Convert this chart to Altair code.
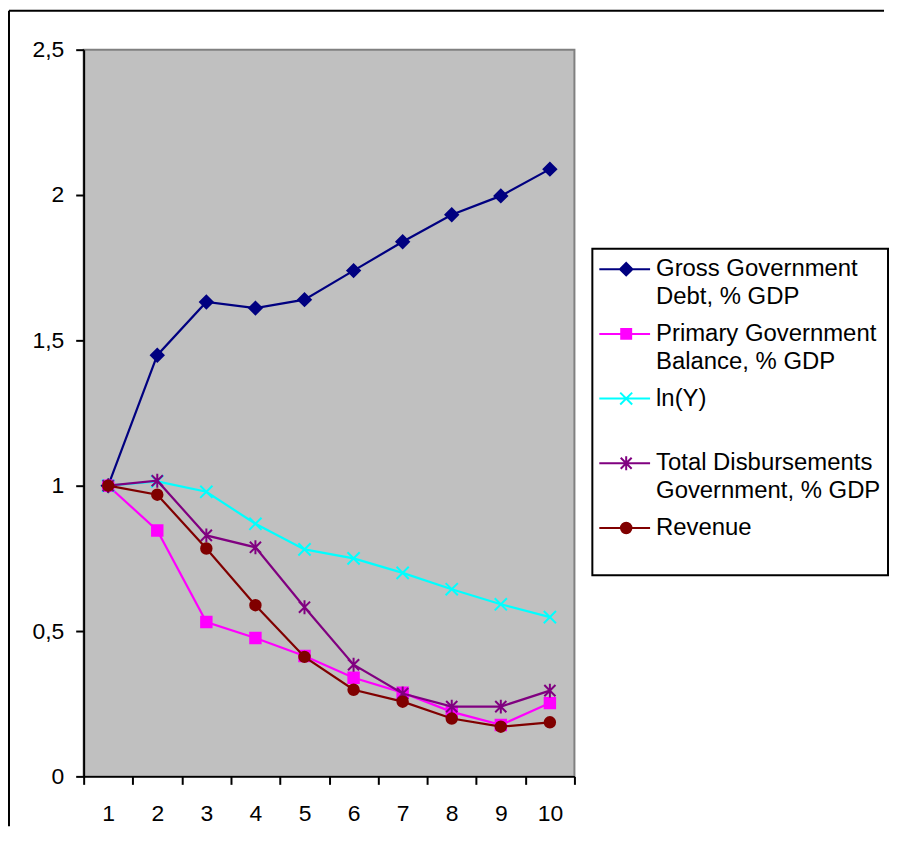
import altair as alt
import pandas as pd

# ---- data ----
periods = [1, 2, 3, 4, 5, 6, 7, 8, 9, 10]
series_names = [
    "Gross Government Debt, % GDP",
    "Primary Government Balance, % GDP",
    "ln(Y)",
    "Total Disbursements Government, % GDP",
    "Revenue",
]
legend_lines = [
    ["Gross Government", "Debt, % GDP"],
    ["Primary Government", "Balance, % GDP"],
    ["ln(Y)", " "],
    ["Total Disbursements", "Government, % GDP"],
    ["Revenue", " "],
]
gross_debt = [1.0, 1.449, 1.632, 1.611, 1.640, 1.740, 1.839, 1.932, 1.997, 2.089]
primary_balance = [1.0, 0.846, 0.531, 0.476, 0.414, 0.339, 0.288, 0.222, 0.177, 0.252]
ln_y = [1.0, 1.015, 0.979, 0.869, 0.781, 0.750, 0.700, 0.644, 0.592, 0.548]
total_disb = [1.0, 1.017, 0.829, 0.788, 0.582, 0.384, 0.285, 0.240, 0.240, 0.295]
revenue = [1.0, 0.969, 0.784, 0.589, 0.411, 0.298, 0.257, 0.199, 0.171, 0.186]
y_ticks = [0, 0.5, 1, 1.5, 2, 2.5]

# ---- styles ----
colors = ["#000080", "#FF00FF", "#00FFFF", "#800080", "#800000"]
plot_shapes = [
    "diamond",
    "square",
    "M-1,-1L1,1M-1,1L1,-1",
    "M-0.8,-0.8L0.8,0.8M-0.8,0.8L0.8,-0.8M0,-1L0,1",
    "circle",
]
plot_sizes = [160, 110, 150, 196, 110]
line_seg = "M-2.16,0L1.92,0"
legend_shapes = [
    line_seg + "M0,-0.5L0.5,0L0,0.5L-0.5,0Z",
    line_seg + "M-0.4,-0.4L0.4,-0.4L0.4,0.4L-0.4,0.4Z",
    line_seg + "M-0.48,-0.48L0.48,0.48M-0.48,0.48L0.48,-0.48",
    line_seg + "M-0.44,-0.44L0.44,0.44M-0.44,0.44L0.44,-0.44M0,-0.56L0,0.56",
    line_seg + "M-0.42,0A0.42,0.42 0 1,0 0.42,0A0.42,0.42 0 1,0 -0.42,0Z",
]

values = [gross_debt, primary_balance, ln_y, total_disb, revenue]
rows = []
for name, vals in zip(series_names, values):
    for p, v in zip(periods, vals):
        rows.append({"period": p, "value": v, "series": name})
df = pd.DataFrame(rows)

FONT = "Liberation Sans"

x_enc = alt.X(
    "period:O",
    scale=alt.Scale(type="band", paddingInner=0, paddingOuter=0),
    axis=alt.Axis(
        title=None, labelAngle=0, tickBand="extent", labelPadding=18,
        labelBaseline="top",
    ),
)
y_enc = alt.Y(
    "value:Q",
    scale=alt.Scale(domain=[0, 2.5], nice=False, zero=True),
    axis=alt.Axis(
        title=None, values=y_ticks, labelPadding=12,
        labelExpr="replace(toString(datum.value), '.', ',')",
    ),
)

base = alt.Chart(df)
layers = []
for name, col, shp, sz in zip(series_names, colors, plot_shapes, plot_sizes):
    sub = base.transform_filter(alt.datum.series == name)
    layers.append(sub.mark_line(color=col, strokeWidth=2.2).encode(x=x_enc, y=y_enc))
    layers.append(
        sub.mark_point(
            shape=shp, filled=True, color=col, stroke=col, strokeWidth=2,
            size=sz, opacity=1,
        ).encode(x=x_enc, y=y_enc)
    )

label_map = "{" + ", ".join(
    "'" + n + "': ['" + a + "', '" + b + "']" for n, (a, b) in zip(series_names, legend_lines)
) + "}"
leg = alt.Legend(
    title=None, orient="none", legendX=511, legendY=200,
    labelExpr=label_map + "[datum.label]",
)
legend_layer = base.transform_filter("false").mark_point(
    filled=True, opacity=1, size=625, strokeWidth=2
).encode(
    x=x_enc,
    y=y_enc,
    color=alt.Color("series:N", scale=alt.Scale(domain=series_names, range=colors), legend=leg),
    stroke=alt.Stroke("series:N", scale=alt.Scale(domain=series_names, range=colors), legend=leg),
    shape=alt.Shape("series:N", scale=alt.Scale(domain=series_names, range=legend_shapes), legend=leg),
)
layers.append(legend_layer)

one = alt.Data(values=[{"k": 1}])
frame_left = alt.Chart(one).mark_rule(color="black", strokeWidth=2).encode(
    x=alt.value(-75), y=alt.value(-39), y2=alt.value(780)
)
frame_top = alt.Chart(one).mark_rule(color="black", strokeWidth=2).encode(
    x=alt.value(-75), x2=alt.value(804), y=alt.value(-39)
)
layers = [frame_left, frame_top] + layers

chart = (
    alt.layer(*layers)
    .properties(width=493, height=730, padding=0, background="white")
    .configure(style={"guide-label": {"lineHeight": 28}})
    .configure_view(fill="#C0C0C0", stroke="#808080", strokeWidth=2)
    .configure_axis(
        labelFont=FONT, labelFontSize=23, labelColor="black",
        domainColor="black", domainWidth=2, tickColor="black", tickWidth=2,
        tickSize=8, grid=False,
    )
    .configure_legend(
        labelFont=FONT, labelFontSize=24, labelColor="black", labelLimit=400,
        labelOffset=16.5, symbolOffset=13.5, symbolSize=625, symbolStrokeWidth=2,
        symbolOpacity=1, strokeColor="black", strokeWidth=2, fillColor="white",
        padding=7, rowPadding=11,
    )
)

chart.save("out.html", embed_options={"renderer": "svg", "actions": False})
